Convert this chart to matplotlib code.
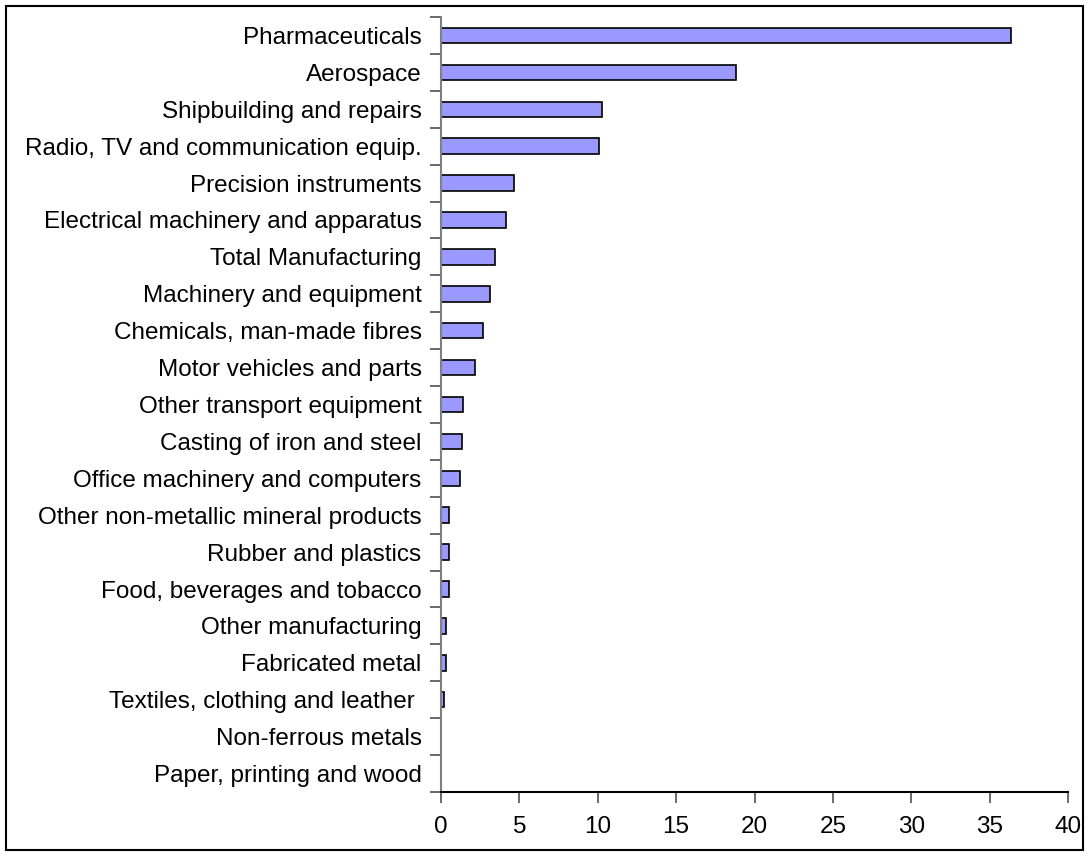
import numpy as np
import matplotlib.pyplot as plt
from matplotlib.patches import Rectangle

plt.rcParams['font.family'] = ['Liberation Sans', 'DejaVu Sans']

# categories, top to bottom
industries = ['Pharmaceuticals', 'Aerospace', 'Shipbuilding and repairs',
              'Radio, TV and communication equip.', 'Precision instruments',
              'Electrical machinery and apparatus', 'Total Manufacturing',
              'Machinery and equipment', 'Chemicals, man-made fibres',
              'Motor vehicles and parts', 'Other transport equipment',
              'Casting of iron and steel', 'Office machinery and computers',
              'Other non-metallic mineral products', 'Rubber and plastics',
              'Food, beverages and tobacco', 'Other manufacturing',
              'Fabricated metal', 'Textiles, clothing and leather ',
              'Non-ferrous metals', 'Paper, printing and wood']
values = [36.35, 18.8, 10.3, 10.1, 4.65, 4.17, 3.42, 3.1, 2.7, 2.2, 1.38,
          1.32, 1.23, 0.49, 0.49, 0.49, 0.32, 0.32, 0.17, 0.0, 0.0]
xticks = [0, 5, 10, 15, 20, 25, 30, 35, 40]

fig = plt.figure(figsize=(10.89, 8.56), dpi=100)
ax = fig.add_axes([441/1089, 1 - 792/856, (1068-441)/1089, (792-17)/856])

n = len(industries)
pos = np.arange(n)[::-1]
ax.barh(pos, values, height=0.42, color='#9999FF', edgecolor='black', linewidth=1.2)

ax.set_xlim(0, 40)
ax.set_ylim(-0.5, n - 0.5)

# labels at centres, ticks at boundaries
ax.set_yticks(np.arange(-0.5, n, 1.0))
ax.set_yticklabels([])
ax.set_yticks(pos, minor=True)
ax.set_yticklabels(industries, minor=True, fontsize=17.5)
ax.tick_params(axis='y', which='major', length=8, width=1.1, direction='out', color='#404040')
ax.tick_params(axis='y', which='minor', length=0, pad=14)

ax.set_xticks(xticks)
ax.set_xticklabels([str(t) for t in xticks], fontsize=17.5)
ax.tick_params(axis='x', length=8, width=1.1, direction='out', color='#404040', pad=9)

ax.spines['top'].set_visible(False)
ax.spines['right'].set_visible(False)
ax.spines['left'].set_color('#808080')
ax.spines['left'].set_linewidth(1.5)
ax.spines['bottom'].set_linewidth(1.5)

# outer frame
fig.patches.append(Rectangle((6/1089, 6/856), 1 - 12/1089, 1 - 12/856,
                             transform=fig.transFigure, fill=False,
                             edgecolor='black', linewidth=1.5))

fig.savefig('out.png', dpi=100)
